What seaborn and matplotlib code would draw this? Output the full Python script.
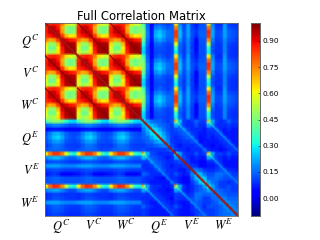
import numpy as np
import matplotlib
matplotlib.use('Agg')
import matplotlib.pyplot as plt
import seaborn as sns

plt.rcParams['mathtext.fontset'] = 'stix'

labels = ['$Q^C$', '$V^C$', '$W^C$', '$Q^E$', '$V^E$', '$W^E$']
cbar_ticks = [0.0, 0.15, 0.30, 0.45, 0.60, 0.75, 0.90]

# one C/C block, the three by three C part repeats it
cc_block = [
    [.80, .86, .87, .85, .76, .64, .58, .56],
    [.86, .94, .93, .88, .70, .48, .43, .46],
    [.87, .93, .94, .91, .72, .48, .43, .48],
    [.85, .88, .91, .94, .84, .68, .62, .64],
    [.76, .70, .72, .84, .93, .91, .88, .86],
    [.64, .48, .48, .68, .91, .97, .96, .95],
    [.58, .43, .43, .62, .88, .96, .98, .97],
    [.56, .50, .52, .64, .86, .95, .97, .98],
]

# E rows against one C block
ec_block = [
    [.38, .44, .48, .48, .42, .34, .28, .26],
    [.14, .16, .18, .18, .16, .14, .12, .12],
    [.03, .05, .06, .06, .05, .03, .03, .03],
    [.12, .17, .22, .23, .19, .14, .12, .11],
    [.14, .19, .25, .27, .22, .15, .13, .12],
    [.12, .16, .20, .21, .18, .13, .12, .11],
    [.10, .13, .16, .16, .14, .11, .10, .10],
    [.12, .14, .15, .15, .14, .12, .11, .11],
    [.62, .76, .84, .84, .76, .58, .36, .30],
    [.18, .22, .24, .24, .20, .16, .14, .14],
    [.10, .12, .13, .13, .12, .11, .10, .10],
    [.20, .21, .21, .21, .19, .18, .18, .18],
    [.10, .11, .12, .12, .11, .10, .10, .10],
    [.06, .08, .10, .08, .03, .02, .03, .05],
    [.12, .13, .14, .14, .13, .12, .12, .12],
    [.12, .13, .14, .14, .13, .12, .12, .12],
    [.62, .78, .86, .84, .74, .54, .34, .30],
    [.18, .20, .22, .22, .18, .14, .12, .12],
    [.08, .10, .11, .11, .10, .09, .09, .09],
    [.08, .10, .12, .12, .11, .10, .09, .09],
    [.20, .21, .21, .21, .19, .18, .18, .18],
    [.10, .12, .14, .14, .13, .11, .10, .10],
    [.09, .11, .13, .13, .12, .10, .09, .09],
    [.08, .10, .11, .11, .10, .09, .08, .08],
]

# E against E background
ee_block = [
    [.30, .22, .16, .14, .14, .12, .10, .12, .45, .24, .10, .08, .10, .14, .10, .10, .42, .22, .10, .08, .10, .14, .10, .10],
    [.22, .26, .24, .20, .16, .14, .12, .10, .24, .14, .10, .08, .08, .12, .08, .08, .22, .14, .08, .08, .08, .10, .08, .08],
    [.16, .24, .30, .28, .22, .16, .12, .10, .12, .14, .16, .10, .08, .08, .08, .06, .10, .10, .10, .08, .06, .08, .06, .06],
    [.14, .20, .28, .32, .28, .20, .14, .10, .10, .12, .14, .14, .10, .08, .06, .06, .08, .08, .10, .10, .06, .06, .06, .06],
    [.14, .16, .22, .28, .30, .24, .16, .10, .08, .10, .12, .14, .14, .08, .05, .06, .08, .06, .08, .10, .10, .06, .06, .06],
    [.12, .14, .16, .20, .24, .24, .18, .10, .08, .08, .10, .10, .12, .12, .04, .06, .06, .06, .06, .08, .10, .10, .06, .06],
    [.10, .12, .12, .14, .16, .18, .20, .12, .08, .06, .08, .08, .08, .10, .10, .06, .06, .04, .06, .06, .08, .10, .08, .06],
    [.12, .10, .10, .10, .10, .10, .12, .18, .10, .08, .08, .06, .08, .08, .08, .12, .08, .06, .06, .04, .06, .08, .10, .08],
    [.45, .24, .12, .10, .08, .08, .08, .10, .34, .20, .10, .08, .08, .12, .08, .10, .45, .22, .10, .10, .08, .12, .08, .08],
    [.24, .14, .14, .12, .10, .08, .06, .08, .20, .18, .12, .08, .06, .08, .06, .06, .22, .14, .10, .08, .06, .08, .06, .06],
    [.10, .10, .16, .14, .12, .10, .08, .08, .10, .12, .12, .10, .06, .06, .04, .04, .08, .08, .10, .08, .05, .05, .05, .05],
    [.08, .08, .10, .14, .14, .10, .08, .06, .08, .08, .10, .12, .10, .08, .04, .04, .06, .06, .08, .10, .06, .05, .05, .05],
    [.10, .08, .08, .10, .14, .12, .08, .08, .08, .06, .06, .10, .16, .18, .14, .10, .08, .08, .10, .12, .12, .08, .08, .06],
    [.14, .12, .08, .08, .08, .12, .10, .08, .12, .08, .06, .08, .18, .26, .24, .16, .12, .12, .16, .16, .14, .12, .10, .10],
    [.10, .08, .08, .06, .05, .04, .10, .08, .08, .06, .04, .04, .14, .24, .28, .26, .14, .14, .16, .14, .12, .12, .10, .12],
    [.10, .08, .06, .06, .06, .06, .06, .12, .10, .06, .04, .04, .10, .16, .26, .34, .22, .16, .14, .10, .10, .08, .10, .12],
    [.42, .22, .10, .08, .08, .06, .06, .08, .45, .22, .08, .06, .08, .12, .14, .22, .36, .22, .14, .10, .10, .12, .10, .10],
    [.22, .14, .10, .08, .06, .06, .04, .06, .22, .14, .08, .06, .08, .12, .14, .16, .22, .20, .16, .14, .12, .12, .10, .10],
    [.10, .08, .10, .10, .08, .06, .06, .06, .10, .10, .10, .08, .10, .16, .16, .14, .14, .16, .18, .16, .14, .12, .12, .12],
    [.08, .08, .08, .10, .10, .08, .06, .04, .10, .08, .08, .10, .12, .16, .14, .10, .10, .14, .16, .18, .18, .14, .14, .14],
    [.10, .08, .06, .06, .10, .10, .08, .06, .08, .06, .05, .06, .12, .14, .12, .10, .10, .12, .14, .18, .20, .18, .16, .16],
    [.14, .10, .08, .06, .06, .10, .10, .08, .12, .08, .05, .05, .08, .12, .12, .08, .12, .12, .12, .14, .18, .20, .18, .16],
    [.10, .08, .06, .06, .06, .06, .08, .10, .08, .06, .05, .05, .08, .10, .10, .10, .10, .10, .12, .14, .16, .18, .20, .18],
    [.10, .08, .06, .06, .06, .06, .06, .08, .08, .06, .05, .05, .06, .10, .12, .12, .10, .10, .12, .14, .16, .16, .18, .20],
]

# fine lines along the diagonals of the E blocks, first cell is the hot corner
cross_line = [.76, .50, .34, .27, .24, .23, .22, .22, .22, .21, .21, .20, .20, .19, .19, .18]
diagonal_value = 0.99

# fine grid: each listed cell covers two by two
cc = np.kron(np.array(cc_block), np.ones((2, 2)))
ec = np.kron(np.array(ec_block), np.ones((2, 2)))
ee = np.kron(np.array(ee_block), np.ones((2, 2)))

size = cc.shape[0]
for a in range(3):
    for b in range(a + 1, 3):
        for k in range(size):
            ee[a * size + k, b * size + k] = cross_line[k]
            ee[b * size + k, a * size + k] = cross_line[k]

cc_all = np.block([[cc] * 3] * 3)
ec_all = np.hstack([ec] * 3)
matrix = np.block([[cc_all, ec_all.T], [ec_all, ee]])
np.fill_diagonal(matrix, diagonal_value)

n = matrix.shape[0]
block = n / 6
centers = [block * (i + 0.5) for i in range(6)]

fig = plt.figure(figsize=(3.2, 2.4), dpi=100)
ax = fig.add_axes([45 / 320, 24 / 240, 193 / 320, 193 / 240])
cax = fig.add_axes([251 / 320, 24 / 240, 9 / 320, 193 / 240])

sns.heatmap(matrix, ax=ax, cbar_ax=cax, cmap='jet', vmin=-0.103, vmax=1.003,
            xticklabels=False, yticklabels=False, shading='gouraud',
            cbar_kws={'ticks': cbar_ticks, 'format': '%.2f'})

# gouraud smears the one cell diagonals, so trace them again
steps = np.arange(size)
ax.plot(np.arange(n), np.arange(n), color='#a01818', lw=1.1, zorder=3)
for a in range(3):
    for b in range(3):
        if a != b:
            ax.plot(steps + a * size, steps + b * size, color='#8c0000', lw=0.8, zorder=3)

ax.set_xlim(0, n - 1)
ax.set_ylim(n - 1, 0)
ax.set_xticks(centers)
ax.set_yticks(centers)
ax.set_xticklabels(labels, fontsize=9)
ax.set_yticklabels(labels, fontsize=9, rotation=0)
ax.tick_params(length=0)
ax.tick_params(axis='x', pad=1.5)
ax.tick_params(axis='y', pad=4)
ax.set_title('Full Correlation Matrix', fontsize=8.4, pad=1)
for s in ax.spines.values():
    s.set_visible(True)
    s.set_linewidth(0.6)
    s.set_color('#666666')

cax.tick_params(labelsize=5.3, length=1.5, width=0.4, pad=1.5, direction='in')
for s in cax.spines.values():
    s.set_visible(True)
    s.set_linewidth(0.6)
    s.set_color('#666666')

fig.savefig('out.png', dpi=100)
